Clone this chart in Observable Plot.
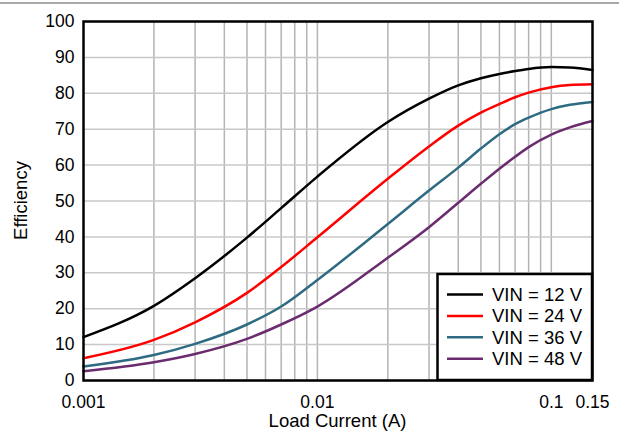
<!DOCTYPE html>
<html>
<head>
<meta charset="utf-8">
<script src="https://cdn.jsdelivr.net/npm/d3@7"></script>
<script src="https://cdn.jsdelivr.net/npm/@observablehq/plot@0.6"></script>
<style>
  html, body { margin: 0; padding: 0; background: white; }
</style>
</head>
<body>
<div id="chart"></div>
<script>
// ---- Data ----
const loadCurrent = [0.001, 0.002, 0.003, 0.005, 0.007, 0.01, 0.02, 0.03, 0.04, 0.05,
                     0.06, 0.07, 0.08, 0.1, 0.12, 0.15];
const effVin12 = [12.1, 20.8, 28.5, 39.8, 48.0, 56.8, 72.0, 78.5, 82.2, 84.2,
                  85.4, 86.2, 86.8, 87.3, 87.2, 86.5];
const effVin24 = [6.2, 11.3, 16.2, 24.4, 31.6, 39.9, 56.2, 65.2, 71.0, 74.6,
                  77.0, 78.9, 80.2, 81.7, 82.3, 82.5];
const effVin36 = [3.9, 7.1, 10.2, 15.6, 20.6, 28.0, 43.6, 52.9, 59.3, 64.6,
                  68.6, 71.4, 73.2, 75.6, 76.8, 77.6];
const effVin48 = [2.6, 5.1, 7.4, 11.6, 15.6, 20.6, 34.2, 42.7, 49.5, 54.8,
                  59.0, 62.3, 65.0, 68.5, 70.5, 72.3];
const seriesNames = ["VIN = 12 V", "VIN = 24 V", "VIN = 36 V", "VIN = 48 V"];
const seriesColors = ["#000000", "#ff0000", "#2e6b82", "#6a2c6e"];
const xTickValues = [0.001, 0.01, 0.1, 0.15];
const xGridValues = [0.002, 0.003, 0.004, 0.005, 0.006, 0.007, 0.008, 0.009, 0.01,
                     0.02, 0.03, 0.04, 0.05, 0.06, 0.07, 0.08, 0.09, 0.1];
const yTickValues = [0, 10, 20, 30, 40, 50, 60, 70, 80, 90, 100];
const xLabel = "Load Current (A)";
const yLabel = "Efficiency";

const allSeries = [effVin12, effVin24, effVin36, effVin48];
const rows = [];
allSeries.forEach((vals, si) => {
  vals.forEach((v, i) => rows.push({x: loadCurrent[i], y: v, s: seriesNames[si]}));
});

const font = "'Liberation Sans', Arial, Helvetica, sans-serif";

const chart = Plot.plot({
  width: 619,
  height: 432,
  marginLeft: 83,
  marginRight: 27,
  marginTop: 21,
  marginBottom: 52,
  style: {fontFamily: font, fontSize: "17.5px", color: "black", background: "white", overflow: "visible"},
  x: {type: "log", domain: [0.001, 0.15]},
  y: {domain: [0, 100]},
  color: {domain: seriesNames, range: seriesColors},
  marks: [
    Plot.gridX(xGridValues, {stroke: "#b4b4b4", strokeOpacity: 1, strokeWidth: 1.5}),
    Plot.gridY(yTickValues, {stroke: "#c8c8c8", strokeOpacity: 1, strokeWidth: 1.5}),
    Plot.axisX(xTickValues, {tickSize: 0, tickPadding: 15, tickFormat: d => String(d), label: null, fill: "black"}),
    Plot.axisY(yTickValues, {tickSize: 0, tickPadding: 9, label: null, fill: "black"}),
    Plot.lineY(rows, {x: "x", y: "y", stroke: "s", strokeWidth: 2.5, curve: "monotone-x"}),
    Plot.frame({stroke: "black", strokeWidth: 2.5})
  ]
});

document.getElementById("chart").appendChild(chart);

// ---- Decorations (layout) ----
const svg = d3.select(chart);

// top rule
svg.append("line")
  .attr("x1", 0).attr("x2", 619).attr("y1", 3).attr("y2", 3)
  .attr("stroke", "#8c8c8c").attr("stroke-width", 1.5);

// axis labels
const frameLeft = 83, frameRight = 592, frameTop = 21, frameBottom = 380;
svg.append("text")
  .attr("x", (frameLeft + frameRight) / 2).attr("y", 427)
  .attr("text-anchor", "middle")
  .style("font-family", font).style("font-size", "18.5px")
  .attr("fill", "black")
  .text(xLabel);
svg.append("text")
  .attr("transform", `translate(26.5,${(frameTop + frameBottom) / 2}) rotate(-90)`)
  .attr("text-anchor", "middle")
  .style("font-family", font).style("font-size", "18.5px")
  .attr("fill", "black")
  .text(yLabel);

// legend
const lg = svg.append("g");
lg.append("rect")
  .attr("x", 437.5).attr("y", 274).attr("width", frameRight - 437.5).attr("height", frameBottom - 274)
  .attr("fill", "white").attr("stroke", "black").attr("stroke-width", 2.5);
seriesNames.forEach((name, i) => {
  const cy = 294.5 + i * 21.4;
  lg.append("line")
    .attr("x1", 447).attr("x2", 483).attr("y1", cy).attr("y2", cy)
    .attr("stroke", seriesColors[i]).attr("stroke-width", 2.5);
  lg.append("text")
    .attr("x", 492).attr("y", cy + 6.5)
    .attr("text-anchor", "start")
    .style("text-anchor", "start")
    .style("font-family", font).style("font-size", "18.5px")
    .attr("fill", "black")
    .text(name);
});
</script>
</body>
</html>
